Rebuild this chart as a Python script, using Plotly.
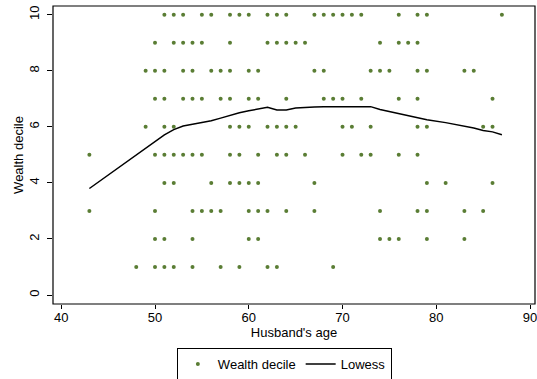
import plotly.graph_objects as go

# Scatter data: husband's age values for each wealth decile
ages_d10 = [51, 52, 53, 55, 56, 58, 59, 60, 62, 63, 64, 67, 68, 69, 70, 71, 72, 76, 78, 79, 87]
ages_d9 = [50, 52, 53, 54, 55, 58, 62, 63, 64, 65, 66, 74, 76, 77, 78]
ages_d8 = [49, 50, 51, 53, 54, 56, 57, 58, 60, 61, 67, 68, 73, 74, 75, 78, 79, 83, 84]
ages_d7 = [50, 51, 53, 54, 55, 57, 58, 60, 61, 64, 68, 69, 70, 72, 76, 78, 86]
ages_d6 = [49, 51, 52, 58, 59, 60, 62, 63, 64, 65, 70, 71, 73, 78, 79, 85, 86]
ages_d5 = [43, 50, 51, 52, 53, 54, 55, 58, 59, 61, 63, 64, 66, 70, 72, 73, 76, 78]
ages_d4 = [51, 52, 56, 58, 59, 60, 61, 67, 79, 81, 86]
ages_d3 = [43, 50, 54, 55, 56, 57, 60, 61, 62, 64, 67, 74, 78, 79, 83, 85]
ages_d2 = [50, 51, 54, 60, 61, 74, 75, 76, 79, 83]
ages_d1 = [48, 50, 51, 52, 54, 57, 59, 62, 63, 69]

# Lowess smooth
lowess_age = [43, 48, 49, 50, 51, 52, 53, 54, 55, 56, 57, 58, 59, 60, 61, 62, 63, 64, 65, 66,
              67, 68, 69, 70, 71, 72, 73, 74, 75, 76, 77, 78, 79, 81, 83, 84, 85, 86, 87]
lowess_val = [3.80, 5.00, 5.25, 5.50, 5.71, 5.90, 6.03, 6.09, 6.15, 6.22, 6.31, 6.41, 6.50, 6.57,
              6.63, 6.70, 6.60, 6.60, 6.67, 6.70, 6.71, 6.72, 6.72, 6.73, 6.73, 6.74, 6.72, 6.62,
              6.55, 6.47, 6.40, 6.32, 6.25, 6.15, 6.03, 5.96, 5.87, 5.82, 5.72]

x_ticks = [40, 50, 60, 70, 80, 90]
y_ticks = [0, 2, 4, 6, 8, 10]

groups = [(10, ages_d10), (9, ages_d9), (8, ages_d8), (7, ages_d7), (6, ages_d6),
          (5, ages_d5), (4, ages_d4), (3, ages_d3), (2, ages_d2), (1, ages_d1)]
sx, sy = [], []
for dec, ages in groups:
    sx += ages
    sy += [dec] * len(ages)

font = "Liberation Sans, Arial, sans-serif"

fig = go.Figure()
fig.add_trace(go.Scatter(
    x=sx, y=sy, mode="markers", name="Wealth decile",
    marker=dict(size=4, color="#5a7d34", line=dict(width=0)),
))
fig.add_trace(go.Scatter(
    x=lowess_age, y=lowess_val, mode="lines", name="Lowess",
    line=dict(color="black", width=1.5),
))

fig.update_layout(
    width=537, height=379,
    margin=dict(l=53, r=2, t=6, b=75, autoexpand=False),
    paper_bgcolor="white", plot_bgcolor="white",
    font=dict(family=font, size=13, color="black"),
    showlegend=True,
    legend=dict(
        orientation="h", x=0.48, xanchor="center", y=-0.148, yanchor="top",
        bordercolor="black", borderwidth=1, bgcolor="white",
        font=dict(size=13), itemwidth=30, tracegroupgap=0,
    ),
    shapes=[dict(type="rect", xref="paper", yref="paper", x0=0, y0=0, x1=1, y1=1,
                 line=dict(color="black", width=1.2), layer="above")],
)
fig.update_xaxes(
    range=[39.12, 90.53], tickvals=x_ticks, ticktext=[str(v) for v in x_ticks],
    automargin=False, ticklabeloverflow="allow", ticklabelstandoff=-3,
    showgrid=False, zeroline=False, showline=False,
    ticks="outside", ticklen=4, tickcolor="black", tickwidth=1,
    title=dict(text="Husband's age", standoff=0, font=dict(size=13)),
)
fig.update_yaxes(
    range=[-0.32, 10.31], tickvals=y_ticks, ticktext=[str(v) for v in y_ticks],
    tickangle=-90, automargin=False, ticklabelstandoff=3, ticklabeloverflow="allow",
    showgrid=False, zeroline=False, showline=False,
    ticks="outside", ticklen=5, tickcolor="black", tickwidth=1,
    title=dict(text="Wealth decile", standoff=0, font=dict(size=13)),
)

fig.write_html(
    "out.html",
    config={"displayModeBar": False},
    post_script="document.body.style.margin='0';document.body.style.padding='0';",
)
